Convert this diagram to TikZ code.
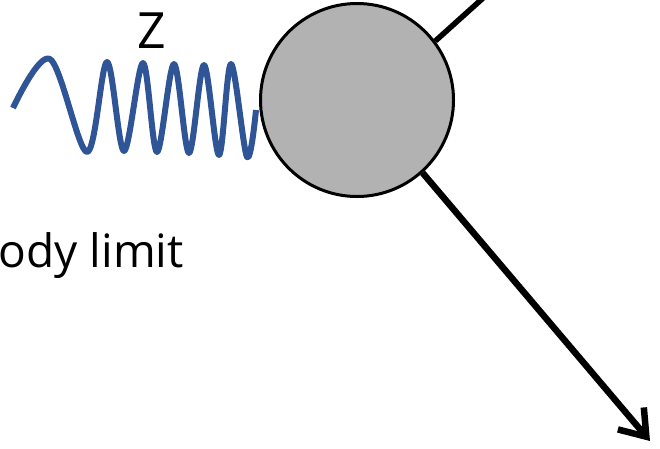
\documentclass[tikz,border=0pt]{standalone}
\usepackage{fontspec}
\setmainfont{Open Sans}
\usetikzlibrary{arrows.meta}
\definecolor{waveblue}{HTML}{2F5597}
\definecolor{blobgray}{HTML}{B2B2B2}
\tikzset{
  wave/.style={draw=waveblue, line width=6pt, line cap=butt, line join=round},
  blob/.style={circle, draw=black, line width=3pt, fill=blobgray, minimum size=193pt, inner sep=0pt},
  leg/.style={draw=black, line width=5.5pt},
  lbl/.style={font=\fontsize{46}{50}\selectfont, inner sep=0pt}
}
\begin{document}
\begin{tikzpicture}[x=1pt,y=-1pt]
\useasboundingbox (0,0) rectangle (660,448);
\clip (0,0) rectangle (660,448);
% chirped wave
\draw[wave] plot[smooth, tension=0.55] coordinates {
  (13,108) (50,59) (87,152) (107,62) (124,151) (143,63) (157,152)
  (174,64) (189,153) (204,65) (219,155) (231,64) (247,157) (256,110)};
\node[blob] (C) at (357,100) {};
\coordinate (out1) at (492,-10);
\coordinate (out2) at (650,441);
\draw[leg] (C.37) -- (out1);
\draw[leg, line width=6.5pt, -{Straight Barb[length=24pt,width=34pt]}] (C.-48) -- (out2);
\node[lbl, font=\fontsize{50}{54}\selectfont, anchor=base] (z) at (152,48) {Z};
\node[lbl, anchor=base east] (limit) at (184,267) {body limit};
\end{tikzpicture}
\end{document}
